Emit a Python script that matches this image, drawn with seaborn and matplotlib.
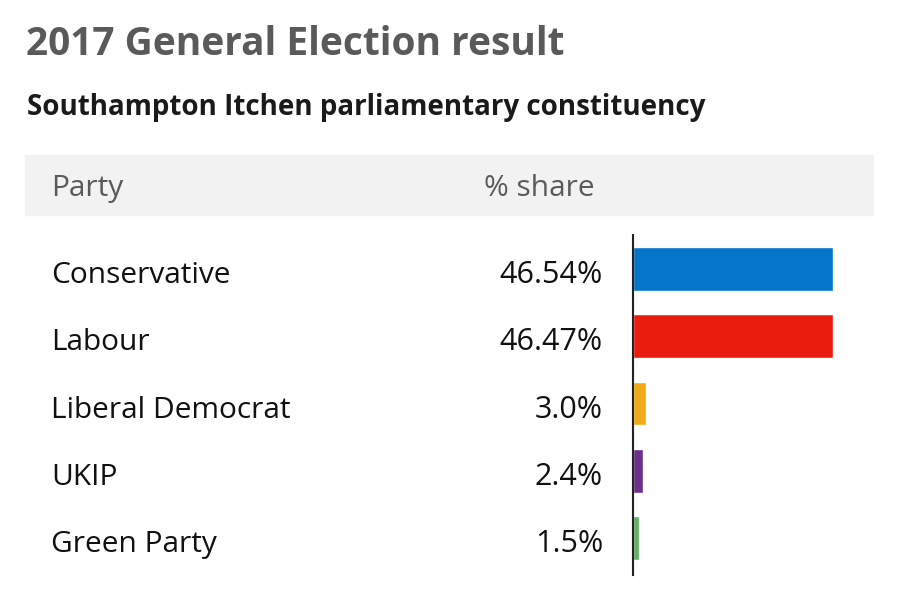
import matplotlib
matplotlib.use('Agg')
import matplotlib.pyplot as plt
import matplotlib.transforms as mtransforms
import seaborn as sns
import pandas as pd

# data
parties = ['Conservative', 'Labour', 'Liberal Democrat', 'UKIP', 'Green Party']
shares = [46.54, 46.47, 3.0, 2.4, 1.5]
share_labels = ['46.54%', '46.47%', '3.0%', '2.4%', '1.5%']
colours = ['#0575c9', '#e91d0e', '#efac18', '#6d3089', '#5fb25f']

df = pd.DataFrame({'party': parties, 'share': shares})

sns.set_style('white')
plt.rcParams['font.family'] = ['Open Sans', 'DejaVu Sans']

fig = plt.figure(figsize=(9, 6.06), dpi=100)
W, H = 900, 606

# bar area
ax = fig.add_axes([633 / W, 1 - 575 / H, 240 / W, 340 / H])
sns.barplot(data=df, x='share', y='party', hue='party', palette=colours,
            legend=False, width=0.65, ax=ax, saturation=1)
ax.set_xlim(0, 55.85)
ax.set_ylim(4.55, -0.505)
ax.set_xlabel('')
ax.set_ylabel('')
ax.set_xticks([])
ax.set_yticks([])
for s in ['top', 'right', 'bottom']:
    ax.spines[s].set_visible(False)
ax.spines['left'].set_color('#222222')
ax.spines['left'].set_linewidth(1.5)

# row labels and values (baseline a little below bar centre)
trans = mtransforms.blended_transform_factory(fig.transFigure, ax.transData)
for i, (p, lab) in enumerate(zip(parties, share_labels)):
    ax.text(51 / W, i + 0.21, p, transform=trans, fontsize=21.5, color='#111111',
            va='baseline', ha='left')
    ax.text(603 / W, i + 0.21, lab, transform=trans, fontsize=22, color='#111111',
            va='baseline', ha='right')

# header band
fig.patches.append(plt.Rectangle((25 / W, 1 - 215 / H), 848 / W, 60 / H,
                                 transform=fig.transFigure, color='#f2f2f2',
                                 zorder=0))
fig.text(51 / W, 1 - 196 / H, 'Party', fontsize=21.5, color='#5a5a5a',
         va='baseline', ha='left')
fig.text(484 / W, 1 - 196 / H, '% share', fontsize=21.5, color='#5a5a5a',
         va='baseline', ha='left')

# titles
fig.text(26 / W, 1 - 55 / H, '2017 General Election result', fontsize=28,
         fontweight='bold', color='#5a5a5a', va='baseline', ha='left')
fig.text(27 / W, 1 - 115 / H, 'Southampton Itchen parliamentary constituency',
         fontsize=20, fontweight='bold', color='#1a1a1a', va='baseline', ha='left')

fig.savefig('out.png', dpi=100)
